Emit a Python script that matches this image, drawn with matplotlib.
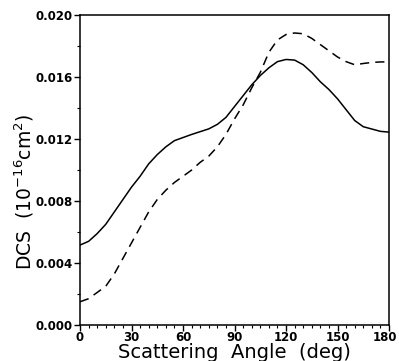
import matplotlib
matplotlib.use("Agg")
import matplotlib.pyplot as plt
import matplotlib.transforms as mtransforms
from matplotlib.ticker import MultipleLocator

# values
angle = [0, 5, 10, 15, 20, 25, 30, 35, 40, 45, 50, 55, 60, 65, 70, 75, 80, 85, 90,
         95, 100, 105, 110, 115, 120, 125, 130, 135, 140, 145, 150, 155, 160, 165,
         170, 175, 180]
dcs_solid = [0.00516, 0.0054, 0.0059, 0.0065, 0.0073, 0.0081, 0.0089, 0.0096,
             0.0104, 0.0110, 0.0115, 0.0119, 0.0121, 0.0123, 0.01248, 0.01266,
             0.01295, 0.0134, 0.0141, 0.0148, 0.0155, 0.0161, 0.0166, 0.0170,
             0.01714, 0.0171, 0.0168, 0.0163, 0.0157, 0.0152, 0.0146, 0.0139,
             0.0132, 0.0128, 0.01265, 0.0125, 0.01245]
dcs_dashed = [0.0015, 0.0017, 0.0021, 0.0025, 0.0033, 0.0043, 0.0053, 0.0063,
              0.0073, 0.0081, 0.0087, 0.0092, 0.0096, 0.0100, 0.0105, 0.0109,
              0.0115, 0.0123, 0.0133, 0.0142, 0.0153, 0.0163, 0.0176, 0.0184,
              0.01875, 0.01885, 0.0188, 0.0185, 0.0181, 0.0177, 0.0173, 0.0170,
              0.0168, 0.01688, 0.01695, 0.01698, 0.01699]

x_ticks = [0, 30, 60, 90, 120, 150, 180]
y_ticks = [0.000, 0.004, 0.008, 0.012, 0.016, 0.020]

fig = plt.figure(figsize=(3.99, 3.61), dpi=100)
ax = fig.add_axes([0.2005, 0.0997, 0.7745, 0.8583])

ax.plot(angle, dcs_solid, color="black", lw=1.1)
ax.plot(angle, dcs_dashed, color="black", lw=1.1, dashes=(6, 4))

ax.set_xlim(0, 180)
ax.set_ylim(0, 0.020)
ax.set_xticks(x_ticks)
ax.set_yticks(y_ticks)
ax.set_yticklabels([f"{v:.3f}" for v in y_ticks])
ax.xaxis.set_minor_locator(MultipleLocator(5))
ax.yaxis.set_minor_locator(MultipleLocator(0.002))

ax.tick_params(which="major", direction="out", length=4, width=1,
               labelsize=8.5, pad=1.5)
ax.tick_params(axis="x", which="major", pad=0.5)
ax.tick_params(which="minor", direction="out", length=2.5, width=0.8)
for lab in ax.get_xticklabels() + ax.get_yticklabels():
    lab.set_fontweight("bold")
# last x label sits at the right edge, nudge it in a little
last = ax.get_xticklabels()[-1]
last.set_transform(last.get_transform() +
                   mtransforms.ScaledTranslation(-3 / 72, 0, fig.dpi_scale_trans))
for sp in ax.spines.values():
    sp.set_linewidth(1.1)

ax.set_xlabel("Scattering  Angle  (deg)", fontsize=14, va="baseline")
ax.xaxis.set_label_coords(0.5, -0.108)
ax.set_ylabel("DCS  (10$^{-16}$cm$^{2}$)", fontsize=13.5, va="center")
ax.yaxis.set_label_coords(-0.18, 0.43)

fig.savefig("out.png", dpi=100)
